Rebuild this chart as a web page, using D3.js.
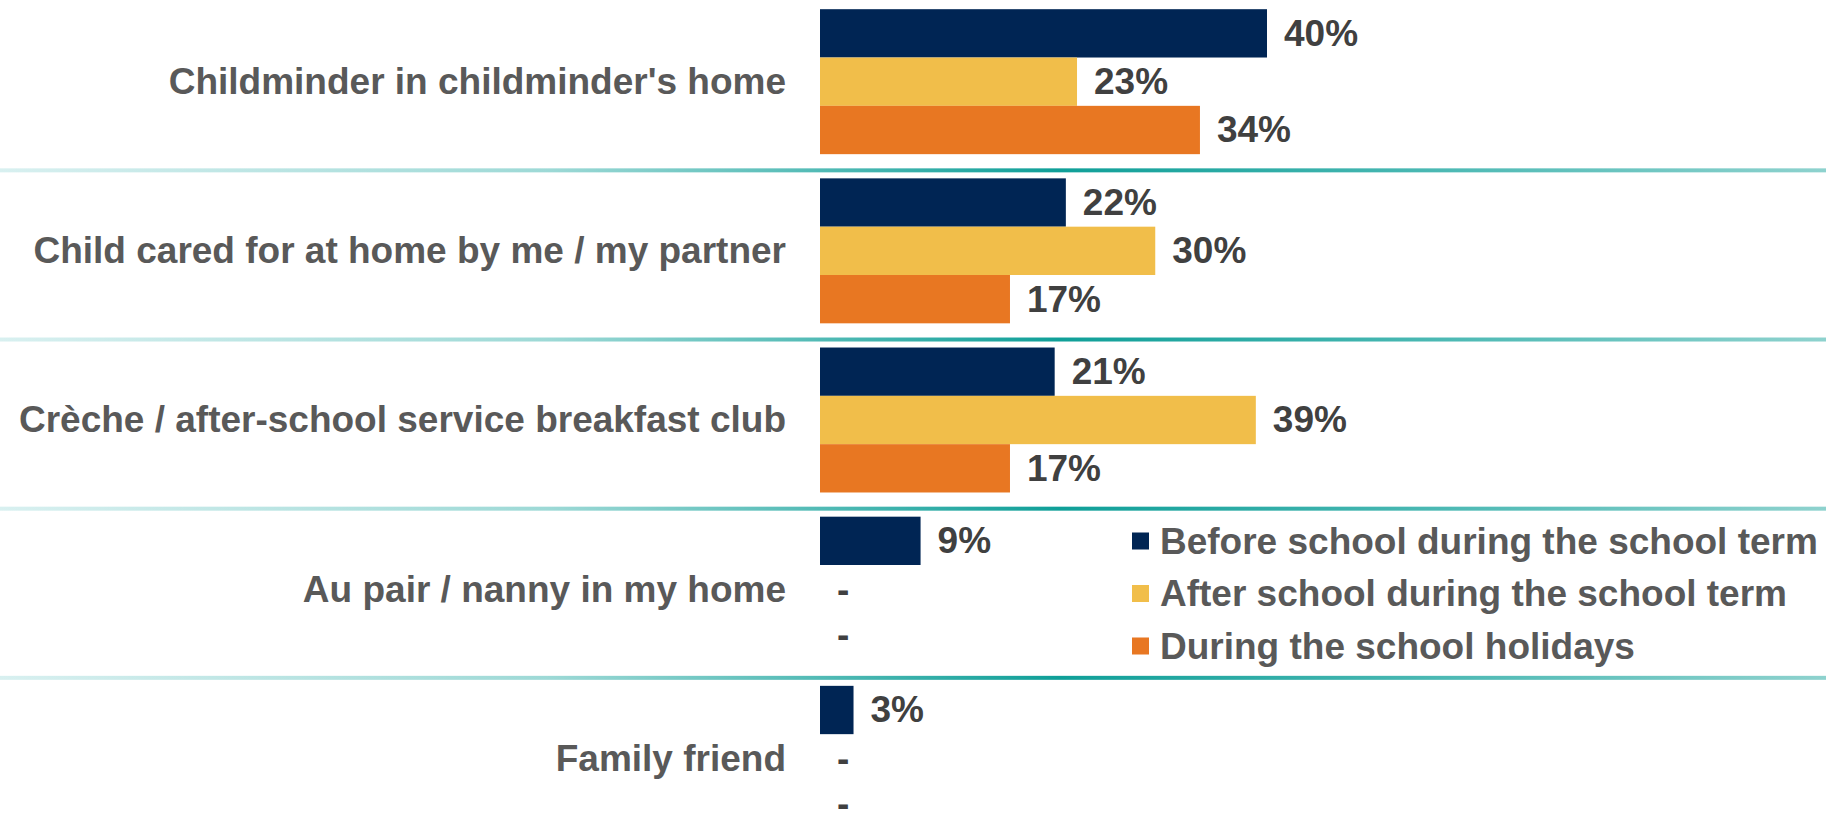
<!DOCTYPE html>
<html>
<head>
<meta charset="utf-8">
<script src="https://cdn.jsdelivr.net/npm/d3@7"></script>
<style>
  body { margin: 0; background: #ffffff; }
  svg { display: block; }
  text { font-family: 'Liberation Sans', Arial, sans-serif; font-weight: bold; }
</style>
</head>
<body>
<svg id="canverse" width="1826" height="813"></svg>
<script>
// chart data
let categories = [
    "Childminder in childminder's home",
    'Child cared for at home by me / my partner',
    'Crèche / after-school service breakfast club',
    'Au pair / nanny in my home',
    'Family friend'
]
let seriesNames = [
    'Before school during the school term',
    'After school during the school term',
    'During the school holidays'
]
let beforeSchool = [40, 22, 21, 9, 3]
let afterSchool = [23, 30, 39, null, null]
let schoolHolidays = [34, 17, 17, null, null]

let colors = ['#002554', '#f1be4a', '#e87722']

let canverse = d3.select('#canverse')

let width = 1826
let fontSize = 37

// gradient for the row separators
let defs = canverse.append('defs')
let grad = defs.append('linearGradient')
               .attr('id', 'sepGrad')
               .attr('gradientUnits', 'userSpaceOnUse')
               .attr('x1', 0).attr('x2', width)
               .attr('y1', 0).attr('y2', 0)
grad.append('stop').attr('offset', '0%').attr('stop-color', '#d8f0f0')
grad.append('stop').attr('offset', '30%').attr('stop-color', '#9dd9d6')
grad.append('stop').attr('offset', '58%').attr('stop-color', '#0f9f98')
grad.append('stop').attr('offset', '80%').attr('stop-color', '#4fbab5')
grad.append('stop').attr('offset', '100%').attr('stop-color', '#8ed2ce')

// rows
let rows = categories.map((c, i) => {
    return {
        category: c,
        values: [beforeSchool[i], afterSchool[i], schoolHolidays[i]]
    }
})

let yScale = d3.scaleBand()
               .domain(categories)
               .range([-15, 855])
               .paddingInner(0.143)
               .paddingOuter(0.143)

let yInner = d3.scaleBand()
               .domain(seriesNames)
               .range([0, yScale.bandwidth()])

let xScale = d3.scaleLinear()
               .domain([0, 40])
               .range([820, 1267])

// separators sit a little above each group (not the first)
canverse.selectAll('.sep')
        .data(categories.slice(1))
        .enter()
        .append('rect')
        .attr('class', 'sep')
        .attr('x', 0)
        .attr('width', width)
        .attr('y', (c) => yScale(c) - 10)
        .attr('height', 4)
        .attr('fill', 'url(#sepGrad)')

let groups = canverse.selectAll('.group')
                     .data(rows)
                     .enter()
                     .append('g')
                     .attr('class', 'group')
                     .attr('transform', (d) => 'translate(0,' + yScale(d.category) + ')')

// category label
groups.append('text')
      .attr('x', 786)
      .attr('y', yScale.bandwidth() / 2)
      .attr('text-anchor', 'end')
      .attr('dominant-baseline', 'central')
      .attr('font-size', fontSize)
      .attr('fill', '#595959')
      .text((d) => d.category)

let cells = groups.selectAll('.cell')
                  .data((d) => d.values.map((v, j) => ({ v: v, s: seriesNames[j], j: j })))
                  .enter()

cells.filter((d) => d.v != null)
     .append('rect')
     .attr('x', xScale(0))
     .attr('y', (d) => yInner(d.s))
     .attr('width', (d) => xScale(d.v) - xScale(0))
     .attr('height', yInner.bandwidth())
     .attr('fill', (d) => colors[d.j])

// value labels, a dash when there is no value
cells.append('text')
     .attr('x', (d) => xScale(d.v == null ? 0 : d.v) + 17)
     .attr('y', (d) => yInner(d.s) + yInner.bandwidth() / 2 - (d.v == null && d.j == 2 ? 3 : 0))
     .attr('dominant-baseline', 'central')
     .attr('font-size', fontSize)
     .attr('fill', '#404040')
     .text((d) => d.v == null ? '-' : d.v + '%')

// legend
let legend = canverse.append('g')
                     .attr('transform', 'translate(1132,541)')

let legendItems = legend.selectAll('g')
                        .data(seriesNames)
                        .enter()
                        .append('g')
                        .attr('transform', (d, i) => 'translate(0,' + i * 52.5 + ')')

legendItems.append('rect')
           .attr('x', 0)
           .attr('y', -8.5)
           .attr('width', 17)
           .attr('height', 17)
           .attr('fill', (d, i) => colors[i])

legendItems.append('text')
           .attr('x', 28)
           .attr('y', 0)
           .attr('dominant-baseline', 'central')
           .attr('font-size', fontSize)
           .attr('fill', '#595959')
           .text((d) => d)
</script>
</body>
</html>
